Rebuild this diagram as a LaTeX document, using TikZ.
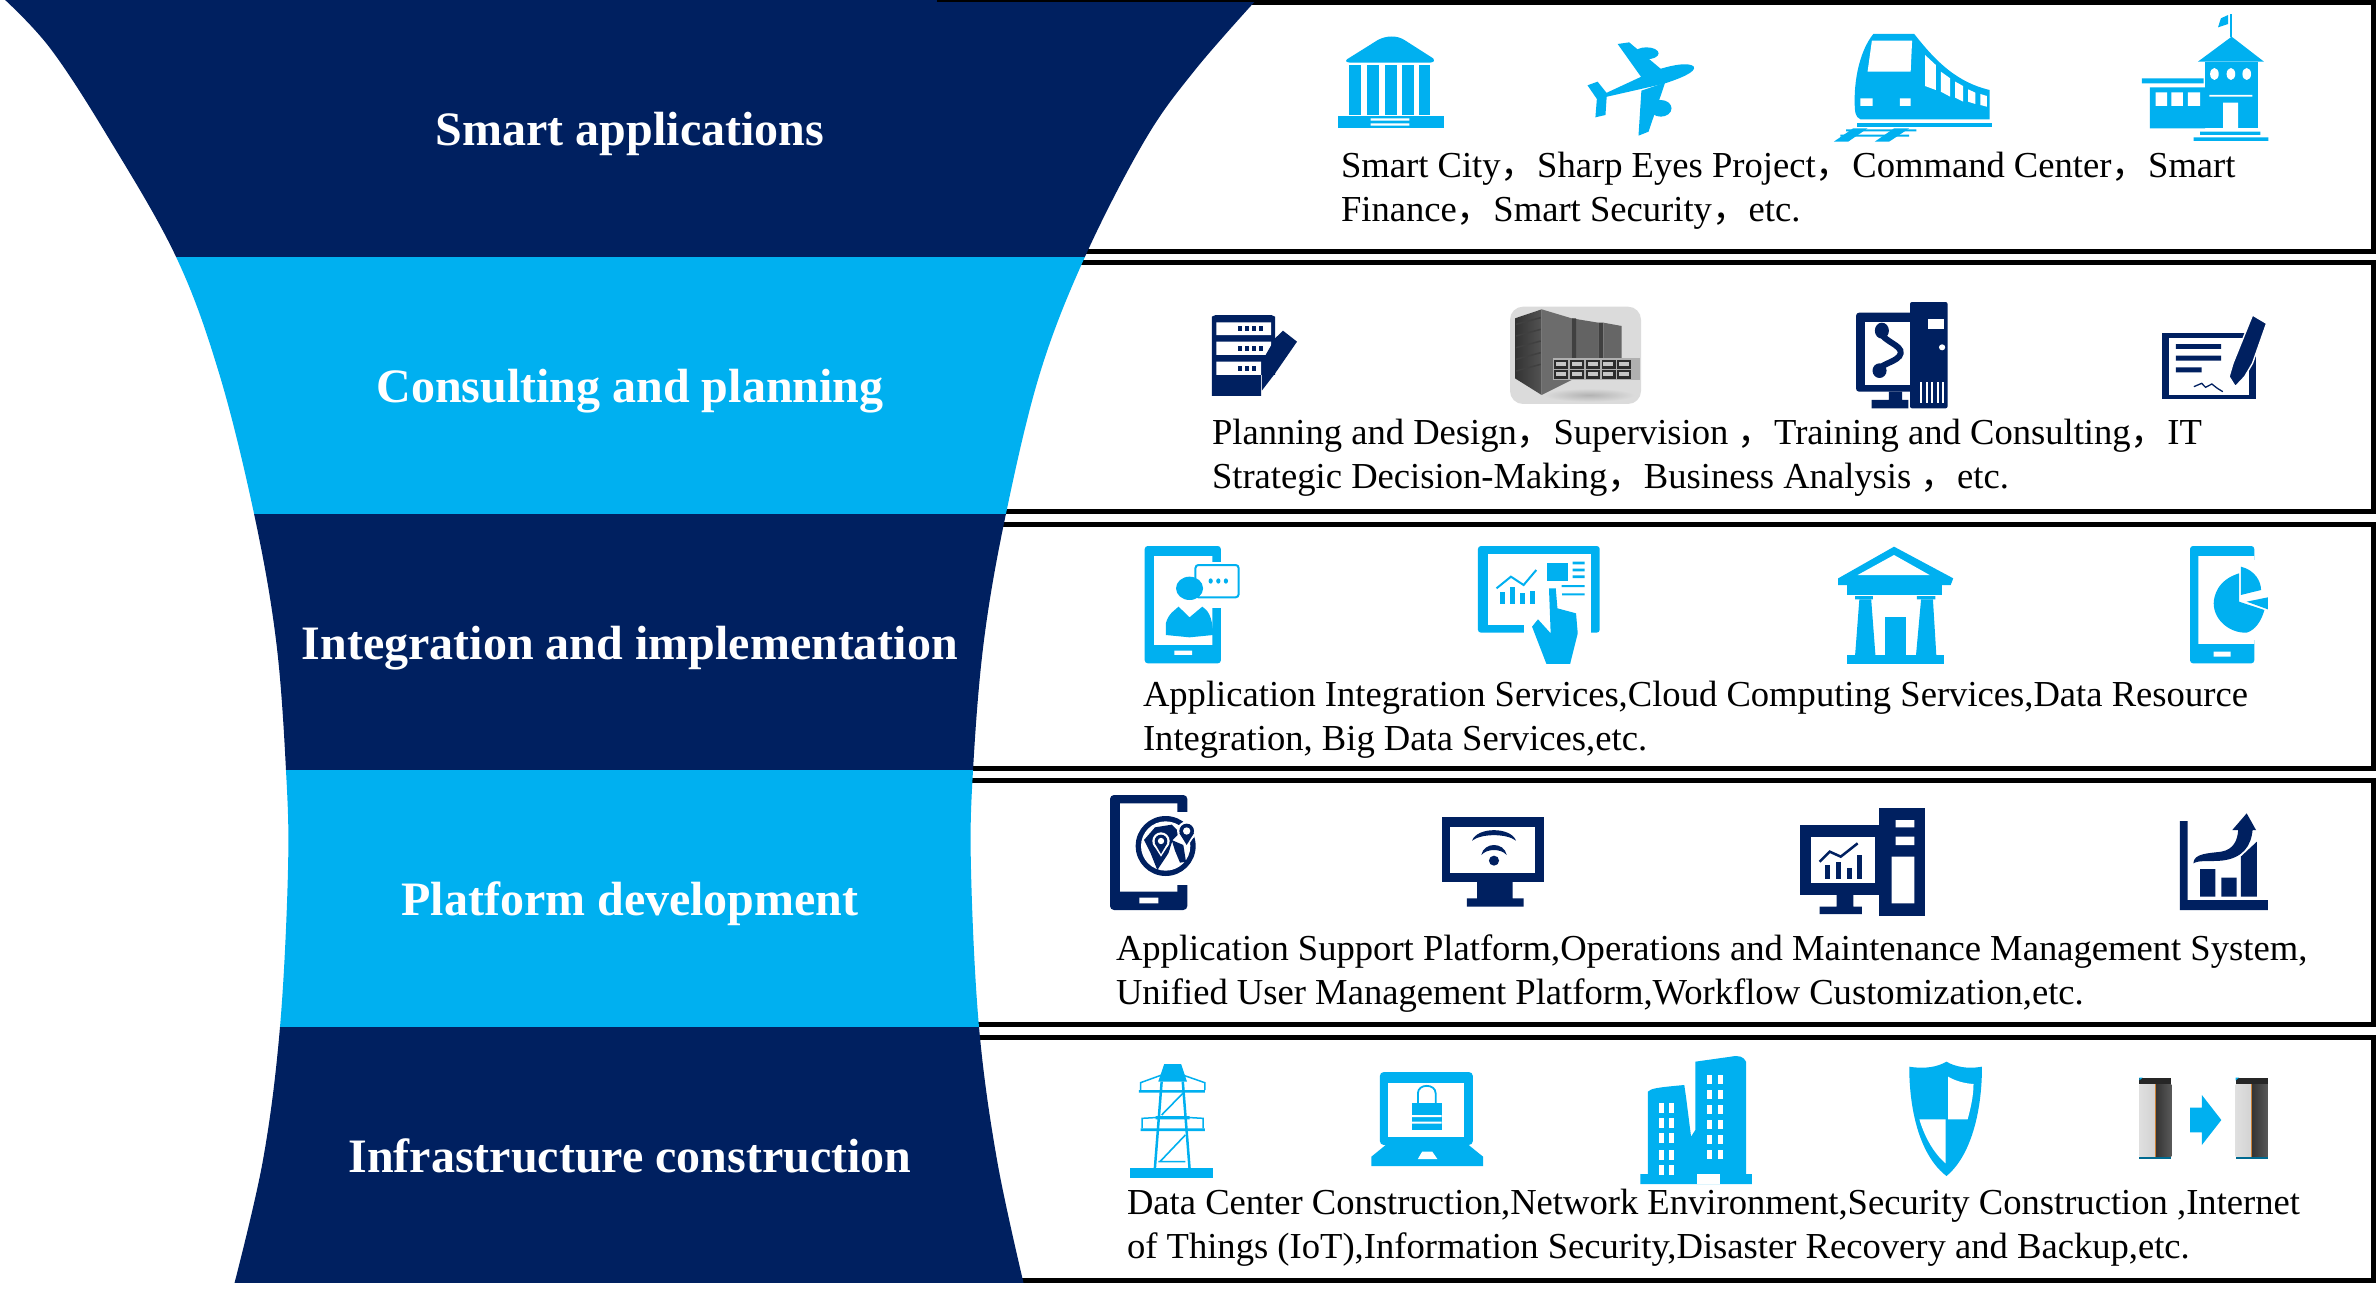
\documentclass[tikz,border=0pt]{standalone}
\usepackage{fontspec}
\setmainfont{Liberation Serif}
\newfontfamily\cjkf{Noto Sans CJK SC}
\newcommand{\cm}{{\cjkf ，}}
\definecolor{navy}{HTML}{002060}
\definecolor{cy}{HTML}{00B0F0}
\tikzset{
  boxline/.style={draw=black,line width=5pt,fill=white},
  body/.style={anchor=north west,inner sep=0pt,outer sep=0pt,align=left,text=black,font=\fontsize{36.6}{44}\selectfont},
  lab/.style={text=white,inner sep=0pt,anchor=base,font=\bfseries\fontsize{48}{52}\selectfont},
  rowa/.style={shift={(1250,0)},xscale=.7181,yscale=.3333},
  rowb/.style={shift={(1150,270)},xscale=.7819,yscale=.3333},
  rowc/.style={shift={(1050,520)},xscale=.8457,yscale=.3333},
  rowd/.style={shift={(1050,770)},xscale=.8457,yscale=.3333},
  rowe/.style={shift={(1050,1030)},xscale=.8457,yscale=.3333}
}
\begin{document}
\begin{tikzpicture}[x=1pt,y=-1pt]
\useasboundingbox (0,0) rectangle (2376,1291);
\fill[white] (0,0) rectangle (2376,1291);
% boxes
\draw[boxline] (937,2.5) rectangle (2373.5,251.5);
\draw[boxline] (950,262.5) rectangle (2373.5,511);
\draw[boxline] (950,524) rectangle (2373.5,768);
\draw[boxline] (950,780.5) rectangle (2373.5,1024.5);
\draw[boxline] (950,1037.5) rectangle (2373.5,1280);
% funnel
\begin{scope}
\clip plot[smooth,tension=.6] coordinates {(3,-2)(50,48)(108,137)(176,256.7)(219,373)(254,513.5)(276,640)(286,770.3)(288,870)(280,1027)(263,1160)(234,1285)}
 -- plot[smooth,tension=.6] coordinates {(1024,1285)(997,1160)(979,1027)(971,870)(973,770.3)(984,640)(1006,513.5)(1040,373)(1085,256.7)(1145,140)(1195,70)(1258,-2)} -- cycle;
\fill[navy] (0,0) rectangle (1300,256.7);
\fill[cy] (0,256.7) rectangle (1300,513.5);
\fill[navy] (0,513.5) rectangle (1300,770.3);
\fill[cy] (0,770.3) rectangle (1300,1027);
\fill[navy] (0,1027) rectangle (1300,1283);
\end{scope}
\fill[black] (937,0) rectangle (1256,1.5);
% funnel labels
\node[lab] (l1) at (630,145.6) {Smart applications};
\node[lab] (l2) at (630,402.3) {Consulting and planning};
\node[lab] (l3) at (630,659) {Integration and implementation};
\node[lab] (l4) at (630,915.7) {Platform development};
\node[lab] (l5) at (630,1172.4) {Infrastructure construction};
% body texts
\node[body] (t1) at (1341,147) {\strut Smart City\cm Sharp Eyes Project\cm Command Center\cm Smart\\Finance\cm Smart Security\cm etc.};
\node[body] (t2) at (1212,413.5) {\strut Planning and Design\cm Supervision \cm Training and Consulting\cm IT\\Strategic Decision-Making\cm Business Analysis \cm etc.};
\node[body] (t3) at (1143,675.5) {\strut Application Integration Services,Cloud Computing Services,Data Resource\\Integration, Big Data Services,etc.};
\node[body] (t4) at (1116,930) {\strut Application Support Platform,Operations and Maintenance Management System,\\Unified User Management Platform,Workflow Customization,etc.};
\node[body] (t5) at (1127,1184) {\strut Data Center Construction,Network Environment,Security Construction ,Internet\\of Things (IoT),Information Security,Disaster Recovery and Backup,etc.};

% ---------- row 1 icons
\begin{scope}[rowa]
% bank
\fill[cy] (135,178)--(178,120) .. controls (190,106) and (205,106) .. (215,120)--(255,175) .. controls (258,185) and (255,188) .. (248,188)--(142,188) .. controls (135,188) and (132,185) .. (135,178)--cycle;
\foreach \a in {138,163,188,212,235} \fill[cy] (\a,195) rectangle +(16,150);
\fill[cy] (123,348) rectangle (270,384);
\fill[white] (168,355) rectangle (222,362) (168,370) rectangle (222,377);
% plane
\fill[cy] (618,200) .. controls (612,185) and (585,195) .. (560,215)--(495,280)--(483,297)--(575,252) .. controls (600,235) and (622,215) .. (618,200)--cycle;
\fill[cy] (512,132)--(528,127)--(575,212)--(545,232)--cycle;
\fill[cy] (578,248)--(555,395)--(541,407)--(545,272)--cycle;
\fill[cy] (470,256)--(484,245)--(497,280)--(495,345)--(481,352)--(483,297)--cycle;
\fill[cy] (552,160) ellipse [x radius=17,y radius=18];
\fill[cy] (572,325) ellipse [x radius=15,y radius=25];
% train
\fill[cy] (868,102)--(925,102) .. controls (950,170) and (980,245) .. (1030,270)--(1030,358)--(850,358) .. controls (843,350) and (842,340) .. (842,300) .. controls (842,230) and (850,150) .. (868,102)--cycle;
\fill[white] (866,122)--(922,122)--(920,215)--(860,215)--cycle;
\fill[white] (940,165)--(955,195)--(955,270)--(940,258)--cycle;
\fill[white] (962,215)--(975,235)--(975,290)--(962,275)--cycle;
\fill[white] (982,245)--(993,258)--(993,305)--(982,293)--cycle;
\fill[white] (1000,268)--(1010,278)--(1010,312)--(1000,305)--cycle;
\fill[white] (1017,282)--(1026,288)--(1026,320)--(1017,315)--cycle;
\fill[white] (850,295) rectangle (867,318) (905,295) rectangle (920,318);
\fill[cy] (845,368) rectangle (1033,382);
\fill[cy] (830,388) rectangle (928,394) (822,404) rectangle (918,410);
\fill[cy] (813,425)--(840,385)--(860,385)--(833,425)--cycle;
\fill[cy] (870,425)--(897,385)--(918,385)--(890,425)--cycle;
% school
\draw[cy,line width=1.2pt] (1366,42)--(1366,110);
\fill[cy] (1348,82)--(1352,55)--(1362,45)--(1362,72)--cycle;
\fill[cy] (1367,110)--(1412,185)--(1320,185)--cycle;
\fill[cy] (1330,185) rectangle (1403,385);
\fill[white] (1343,222) ellipse [x radius=6,y radius=18] (1366,222) ellipse [x radius=6,y radius=18] (1388,222) ellipse [x radius=6,y radius=18];
\fill[white] (1336,285) rectangle (1396,290) (1355,308) rectangle (1376,385);
\fill[cy] (1253,262) rectangle (1330,385) (1242,235) rectangle (1328,250);
\fill[white] (1261,277) rectangle (1277,318) (1283,277) rectangle (1299,318) (1306,277) rectangle (1323,318);
\fill[cy] (1323,395) rectangle (1407,405) (1314,412) rectangle (1418,423);
\end{scope}

% ---------- row 2 icons
\begin{scope}[rowb]
% server pencil
\fill[navy] (79,140) -- (84,135) -- (155,135) -- (160,140) -- (160,315) -- (142,315) -- (142,378) -- (79,378) -- cycle;
\fill[white] (85,157) rectangle (155,195) (85,215) rectangle (155,255) (85,275) rectangle (142,315);
\foreach \yy/\n in {176/4,235/4,295/3} \foreach \i in {1,...,\n} \fill[navy] ({104+\i*9},\yy-7) rectangle +(5,14);
\fill[navy] (170,182)--(188,215)--(160,310)--(143,362)--(143,275)--(160,205)--cycle;
% computer phone
\fill[navy,rounded corners=3pt] (903,128) rectangle (995,365);
\fill[white] (915,155) rectangle (985,345);
\draw[navy,line width=6pt] (934,185) .. controls (938,215) and (962,225) .. (960,250) .. controls (958,275) and (935,280) .. (932,300);
\fill[navy] (936,182) ellipse [x radius=9,y radius=24];
\fill[navy] (933,302) ellipse [x radius=9,y radius=22];
\fill[navy] (945,365) rectangle (962,390) (923,390) rectangle (970,415);
\fill[white] (990,120) rectangle (997,415);
\fill[navy,rounded corners=2pt] (972,96) rectangle (1020,415);
\fill[white] (995,148) rectangle (1015,178);
\fill[white] (1013,232) ellipse [x radius=4,y radius=9];
\foreach \xx in {985,992,999,1006,1013} \fill[white] (\xx,335) rectangle +(2.5,65);
% document pen
\fill[navy] (1294,188) rectangle (1414,387);
\fill[white] (1303,205) rectangle (1405,375);
\fill[navy] (1312,222) rectangle (1370,237) (1312,257) rectangle (1370,272) (1312,292) rectangle (1345,307);
\draw[navy,line width=1.3pt] (1335,350)--(1345,340)--(1350,352)--(1358,342)--(1365,355)--(1372,365);
\draw[white,line width=1.4pt,fill=navy] (1410,135)--(1428,160)--(1410,280)--(1400,320)--(1388,350)--(1380,320)--(1385,280)--cycle;
\end{scope}
% grey rack
\begin{scope}[shift={(1500,300)},scale=.3333]
\fill[gray!28,rounded corners=13pt] (30,20) rectangle (423,312);
\shade[inner color=gray!60,outer color=gray!28] (130,265) rectangle (405,305);
\shade[left color=gray!40!black,right color=gray!65!black] (45,55)--(125,28)--(125,285)--(45,235)--cycle;
\foreach \k in {85,120,155,190,225} \draw[black!75,line width=1.5pt] (48,{\k-12})--(122,{\k-32});
\fill[gray!85!black] (125,28)--(215,55)--(215,240)--(125,285)--cycle;
\fill[gray!78!black] (215,55)--(295,68)--(295,215)--(215,240)--cycle;
\fill[gray!50!black] (215,55) rectangle (228,240) (295,68) rectangle (310,210);
\fill[gray!80!black] (310,68)--(365,78)--(365,180)--(310,180)--cycle;
\fill[gray!62] (160,175) rectangle (420,240);
\foreach \xx in {163,210,258,305,352} \foreach \yy in {180,210} {
 \fill[gray!35!black] (\xx,\yy) rectangle +(42,26);
 \fill[gray!45] (\xx+5,\yy+5) rectangle +(30,14);}
\end{scope}

% ---------- row 3 icons
\begin{scope}[rowc]
% phone person
\fill[cy,rounded corners=3pt] (112,78) rectangle (202,430);
\fill[white] (123,108) rectangle (192,375) (147,392) rectangle (168,405);
\fill[white] (165,125) rectangle (205,265);
\draw[cy,line width=2pt,fill=white,rounded corners=3pt] (172,135) rectangle (223,232);
\foreach \xx in {190,199,208} \fill[cy] (\xx,183) ellipse [x radius=2.5,y radius=8];
\fill[cy] (165,205) ellipse [x radius=16,y radius=35];
\fill[cy] (137,345)--(137,310) .. controls (140,280) and (148,270) .. (152,260)--(165,292)--(180,260) .. controls (186,270) and (192,285) .. (193,345)--(165,352)--cycle;
% tablet hand
\fill[cy,rounded corners=3pt] (506,78) rectangle (650,338);
\fill[white] (518,103) rectangle (640,315);
\foreach \xx/\yy in {532/215,544/200,556/220,567/212} \fill[cy] (\xx,\yy) rectangle (\xx+6,252);
\draw[cy,line width=2pt] (528,205)--(545,170)--(560,195)--(575,150);
\fill[cy] (588,130) rectangle (612,183);
\fill[cy] (618,125) rectangle (632,133) (618,146) rectangle (632,154) (618,166) rectangle (632,174) (605,195) rectangle (632,201) (605,220) rectangle (632,226);
\fill[white] (560,300) rectangle (640,340);
\fill[white] (583,205) rectangle (605,300);
\fill[cy] (590,205)--(598,205)--(600,265)--(622,280)--(624,340)--(615,432)--(587,432)--(570,320)--(577,298)--(592,340)--cycle;
% temple
\fill[cy] (998,80)--(1068,175)--(1065,195)--(932,195)--(932,175)--cycle;
\fill[white] (998,105)--(1040,165)--(955,165)--cycle;
\fill[cy] (942,195) rectangle (1055,225);
\fill[cy] (952,228) rectangle (973,238) (1025,228) rectangle (1047,238);
\fill[cy] (957,238)--(971,238)--(976,405)--(952,405)--cycle;
\fill[cy] (1030,238)--(1044,238)--(1048,405)--(1024,405)--cycle;
\fill[cy] (987,292) rectangle (1012,405);
\fill[cy] (942,405) rectangle (1057,432);
% phone pie
\fill[cy,rounded corners=3pt] (1348,78) rectangle (1424,430);
\fill[white] (1358,108) rectangle (1424,372) (1376,395) rectangle (1396,410);
\fill[white] (1405,120) rectangle (1445,360);
\fill[cy] (1406,160) .. controls (1380,180) and (1376,230) .. (1376,250) .. controls (1376,300) and (1395,340) .. (1415,338) .. controls (1425,330) and (1432,305) .. (1436,270)--(1406,245)--cycle;
\fill[cy] (1408,140) .. controls (1425,150) and (1432,185) .. (1432,210)--(1408,225)--cycle;
\fill[cy] (1415,245)--(1440,232)--(1440,268)--cycle;
\end{scope}

% ---------- row 4 icons
\begin{scope}[shift={(1100,790)},scale=.3333]
% phone globe
\fill[navy,rounded corners=4pt] (30,15) rectangle (262,360);
\fill[white] (60,40) rectangle (232,305) (118,323) rectangle (175,340);
\fill[white] (225,65) rectangle (290,285);
\fill[navy] (197,168) circle [radius=90];
\fill[white] (197,168) circle [radius=74];
\fill[navy] (132,150)--(165,112)--(215,104)--(240,128)--(218,150)--(205,190)--(172,240)--(152,190)--cycle;
\fill[navy] (215,150)--(250,165)--(258,215)--(240,218)--(225,182)--cycle;
\foreach \cx/\cy/\rr in {183/153/19,260/123/22} {
 \fill[white] (\cx,\cy) circle [radius={\rr+7}];
 \fill[white] ({\cx-\rr-6},{\cy+8})--(\cx,{\cy+\rr+28})--({\cx+\rr+6},{\cy+8})--cycle;
 \fill[navy] (\cx,\cy) circle [radius=\rr];
 \fill[navy] ({\cx-\rr},{\cy+6})--(\cx,{\cy+\rr+20})--({\cx+\rr},{\cy+6})--cycle;
 \fill[white] (\cx,\cy) circle [radius=\rr*.5];
}
\end{scope}
\begin{scope}[rowd]
% monitor wifi
\fill[navy] (464,141) rectangle (584,336);
\fill[white] (473,170) rectangle (574,308);
\fill[navy] (505,336) rectangle (547,385) (493,385) rectangle (560,410);
\fill[navy] (499,212) .. controls (505,170) and (545,170) .. (551,212) .. controls (540,190) and (510,190) .. (499,212)--cycle;
\fill[navy] (510,255) .. controls (513,215) and (537,215) .. (540,255) .. controls (533,235) and (517,235) .. (510,255)--cycle;
\fill[navy] (525,272) ellipse [x radius=6,y radius=15];
% computer chart
\fill[navy] (887,166) rectangle (980,375);
\fill[white] (900,200) rectangle (975,340);
\fill[navy] (930,375) rectangle (950,410) (910,410) rectangle (960,432);
\fill[navy] (980,114) rectangle (1035,438);
\fill[white] (1000,150) rectangle (1022,172) (1000,200) rectangle (1022,225) (995,260) rectangle (1022,400);
\foreach \xx/\yy in {916/285,929/275,942/295,954/255} \fill[navy] (\xx,\yy) rectangle (\xx+6,328);
\draw[navy,line width=2.5pt] (910,275)--(922,245)--(935,260)--(955,220);
% growth
\fill[navy] (1336,153) rectangle (1345,420) (1336,390) rectangle (1440,420);
\fill[navy] (1360,297) rectangle (1378,380) (1385,323) rectangle (1403,380);
\fill[navy] (1408,260)--(1427,215)--(1427,380)--(1408,380)--cycle;
\fill[navy] (1352,280) .. controls (1352,250) and (1370,250) .. (1385,245) .. controls (1400,238) and (1404,210) .. (1405,180)--(1398,180)--(1415,130)--(1426,180)--(1422,180) .. controls (1420,230) and (1410,265) .. (1385,272) .. controls (1370,275) and (1358,270) .. (1352,280)--cycle;
\end{scope}

% ---------- row 5 icons
\begin{scope}[rowe]
% pylon
\fill[cy] (95,415) rectangle (193,443);
\fill[cy] (135,102)--(155,102)--(162,155)--(128,155)--cycle;
\draw[cy,line width=2.5pt] (132,155)--(124,415) (157,155)--(165,415);
\draw[cy,line width=1.6pt] (132,255)--(157,190) (130,395)--(160,315) (128,395)--(160,395);
\fill[cy] (105,180) rectangle (183,188) (107,295) rectangle (183,303) (125,258) rectangle (165,268);
\draw[cy,line width=1.5pt] (107,180)--(107,158)--(132,135) (183,180)--(183,158)--(157,135) (109,295)--(109,265)--(130,262) (181,295)--(181,265)--(160,262);
% laptop lock
\fill[cy,rounded corners=4pt] (390,126) rectangle (500,345);
\fill[white] (400,158) rectangle (490,320);
\fill[cy] (397,345)--(495,345)--(512,380)--(512,408)--(380,408)--(380,380)--cycle;
\fill[white] (440,365)--(452,365)--(458,387)--(435,387)--cycle;
\draw[cy,line width=1.8pt] (435,225)--(435,190) .. controls (435,160) and (456,160) .. (456,190)--(456,225);
\fill[cy] (428,220) rectangle (463,300);
\fill[white] (428,255) rectangle (463,261) (428,275) rectangle (463,281);
% buildings
\fill[cy] (763,95)--(805,80) .. controls (815,75) and (820,80) .. (823,95)--(823,432)--(830,432)--(830,462)--(698,462)--(698,432)--(707,432)--(707,185) .. controls (710,175) and (720,172) .. (750,165)--(752,200)--(758,320)--(763,300)--cycle;
\foreach \xx in {720,732} \foreach \yy in {220,265,310,360,405} \fill[white] (\xx,\yy) rectangle +(6,30);
\foreach \xx in {777,790} \foreach \yy in {135,180,225,270,315,360} \fill[white] (\xx,\yy) rectangle +(6,28);
\fill[white] (765,432) rectangle (792,462);
% shield
\fill[cy] (1060,95) .. controls (1050,110) and (1035,118) .. (1016,110) .. controls (1016,250) and (1030,380) .. (1060,438) .. controls (1088,380) and (1102,250) .. (1102,110) .. controls (1085,118) and (1070,110) .. (1060,95)--cycle;
\fill[white] (1062,140) .. controls (1070,152) and (1080,160) .. (1092,162) .. controls (1092,200) and (1088,240) .. (1085,268)--(1062,268)--cycle;
\fill[white] (1028,268)--(1059,268)--(1059,400) .. controls (1045,370) and (1034,320) .. (1028,268)--cycle;
% racks
\foreach \xx in {1288,1402} {
 \fill[black!85] (\xx,143) rectangle +(38,20);
 \fill[cy] (\xx,143)--+(4,0)--+(0,8)--cycle;
 \shade[left color=gray!25,right color=gray!35] (\xx,163) rectangle +(19,217);
 \shade[left color=black!80,right color=black!65] (\xx+19,163) rectangle +(19,217);
 \fill[orange!60!gray] (\xx+18,163) rectangle +(1.5,217);
 \fill[cy!60!black] (\xx,380) rectangle +(38,8);
}
\fill[cy] (1348,233)--(1362,233)--(1362,195)--(1385,270)--(1362,345)--(1362,307)--(1348,307)--cycle;
\end{scope}
\end{tikzpicture}
\end{document}
